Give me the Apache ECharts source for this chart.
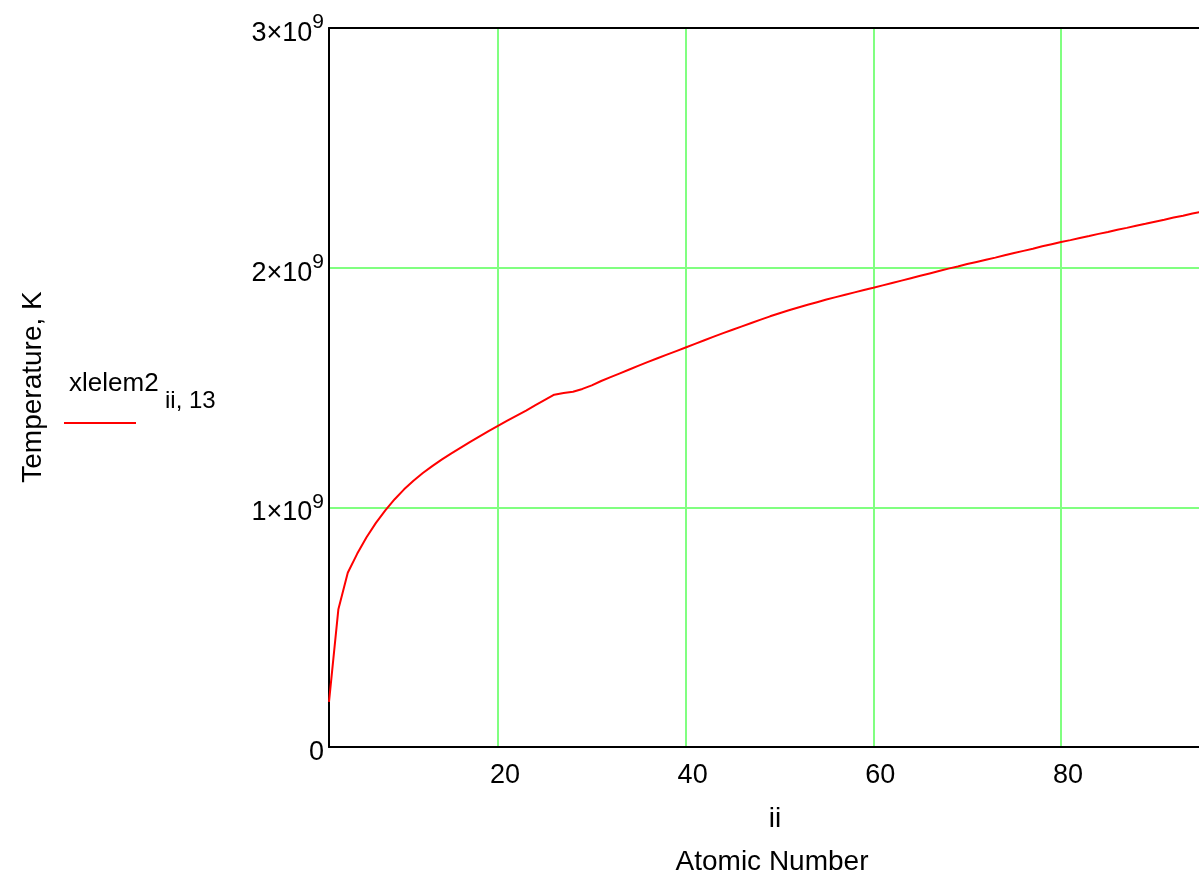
<!DOCTYPE html>
<html>
<head>
<meta charset="utf-8">
<title>Temperature vs Atomic Number</title>
<script src="https://cdn.jsdelivr.net/npm/echarts@6/dist/echarts.min.js"></script>
<style>
  html, body { margin: 0; padding: 0; background: #fff; }
  #chart { width: 1199px; height: 880px; }
</style>
</head>
<body>
<div id="chart"></div>
<script>
// Atomic number ii (x) and temperature xlelem2[ii,13] in kelvin (y)
const atomicNumber = [];
for (let z = 2; z <= 95; z++) atomicNumber.push(z);

// temperatures in units of 1e9 K, one per atomic number 2..95
const temperatureG = [
  0.188, 0.575, 0.727, 0.806, 0.875, 0.935, 0.987, 1.034, 1.075,          // 2-10
  1.111, 1.143, 1.172, 1.199, 1.224, 1.248, 1.272, 1.295, 1.318, 1.340,   // 11-20
  1.362, 1.383, 1.404, 1.426, 1.448, 1.470, 1.477, 1.482, 1.494, 1.509,   // 21-30
  1.527, 1.543, 1.559, 1.575, 1.591, 1.607, 1.622, 1.637, 1.652, 1.667,   // 31-40
  1.682, 1.697, 1.712, 1.727, 1.741, 1.755, 1.769, 1.783, 1.797, 1.810,   // 41-50
  1.822, 1.834, 1.845, 1.856, 1.867, 1.877, 1.887, 1.897, 1.907, 1.916,   // 51-60
  1.926, 1.936, 1.946, 1.956, 1.966, 1.976, 1.986, 1.996, 2.005, 2.015,   // 61-70
  2.024, 2.033, 2.042, 2.052, 2.061, 2.070, 2.079, 2.089, 2.098, 2.107,   // 71-80
  2.115, 2.124, 2.132, 2.141, 2.149, 2.158, 2.166, 2.175, 2.183, 2.192,   // 81-90
  2.200, 2.209, 2.217, 2.226, 2.234                                       // 91-95
];

const yTickMantissas = [0, 1, 2, 3];   // y tick labels: m×10^9
const seriesName = 'xlelem2';
const seriesSubscript = 'ii, 13';
const xTitle = 'ii';
const xSubTitle = 'Atomic Number';
const yTitle = 'Temperature, K';

const FONT = '"Liberation Sans", Arial, sans-serif';
const points = atomicNumber.map((z, i) => [z, temperatureG[i] * 1e9]);

const chart = echarts.init(document.getElementById('chart'), null, { renderer: 'canvas' });

chart.setOption({
  backgroundColor: '#ffffff',
  animation: false,
  grid: { left: 329, right: 0, top: 28, bottom: 133, containLabel: false },
  xAxis: [
    {
      type: 'value',
      min: 2,
      max: 94.7,
      minInterval: 20,
      maxInterval: 20,
      axisLine: { show: true, onZero: false, lineStyle: { color: '#000', width: 2 } },
      axisTick: { show: false },
      axisLabel: {
        color: '#000', fontSize: 27, fontFamily: FONT, margin: 15,
        padding: [0, 0, 0, 14],
        showMinLabel: false, showMaxLabel: false
      },
      splitLine: {
        show: true, showMinLine: false, showMaxLine: false,
        lineStyle: { color: '#80ff80', width: 2 }
      }
    },
    {
      // top border of the plot box
      type: 'value', position: 'top', min: 2, max: 94.7,
      axisLine: { show: true, onZero: false, lineStyle: { color: '#000', width: 2 } },
      axisTick: { show: false }, axisLabel: { show: false }, splitLine: { show: false }
    }
  ],
  yAxis: {
    type: 'value',
    min: 0,
    max: 3e9,
    interval: 1e9,
    axisLine: { show: true, onZero: false, lineStyle: { color: '#000', width: 2 } },
    axisTick: { show: false },
    axisLabel: {
      margin: 5,
      padding: [8, 0, 0, 0],
      formatter: function (v) {
        const m = Math.round(v / 1e9);
        if (m === 0) return '{n|0}';
        return '{n|' + yTickMantissas[m] + '×10}{s|9}';
      },
      rich: {
        n: { color: '#000', fontSize: 27, fontFamily: FONT, verticalAlign: 'bottom', lineHeight: 30 },
        s: { color: '#000', fontSize: 21, fontFamily: FONT, verticalAlign: 'bottom', lineHeight: 30, padding: [0, 0, 14, 0] }
      }
    },
    splitLine: { show: true, lineStyle: { color: '#80ff80', width: 2 } }
  },
  series: [{
    name: seriesName,
    type: 'line',
    data: points,
    showSymbol: false,
    smooth: false,
    lineStyle: { color: '#ff0000', width: 2 },
    z: 5
  }],
  graphic: [
    {
      type: 'text', x: 775, y: 819,
      style: { text: xTitle, font: '28px ' + FONT, fill: '#000', align: 'center', verticalAlign: 'middle' }
    },
    {
      type: 'text', x: 772, y: 862,
      style: { text: xSubTitle, font: '28px ' + FONT, fill: '#000', align: 'center', verticalAlign: 'middle' }
    },
    {
      type: 'text', x: 33, y: 387, rotation: Math.PI / 2,
      style: { text: yTitle, font: '28px ' + FONT, fill: '#000', align: 'center', verticalAlign: 'middle' }
    },
    {
      type: 'text', x: 69, y: 384,
      style: { text: seriesName, font: '26px ' + FONT, fill: '#000', align: 'left', verticalAlign: 'middle' }
    },
    {
      type: 'text', x: 165, y: 401,
      style: { text: seriesSubscript, font: '24px ' + FONT, fill: '#000', align: 'left', verticalAlign: 'middle' }
    },
    {
      type: 'line', shape: { x1: 64, y1: 423, x2: 136, y2: 423 },
      style: { stroke: '#ff0000', lineWidth: 2 }
    }
  ]
});
</script>
</body>
</html>
